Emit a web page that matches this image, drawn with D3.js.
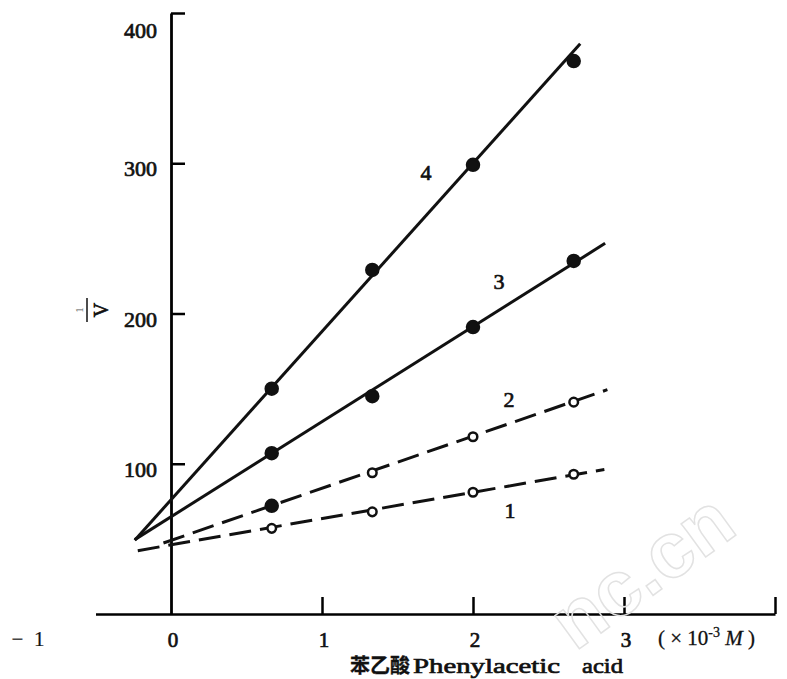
<!DOCTYPE html>
<html>
<head>
<meta charset="utf-8">
<script src="https://cdn.jsdelivr.net/npm/d3@7"></script>
<style>
  body { margin: 0; background: #fff; }
</style>
</head>
<body>
<svg id="chart" width="787" height="679"></svg>
<script>
// Phenylacetic acid concentration (x 10^-3 M)
const conc = [0.667, 1.333, 2.0, 2.667];

// 1/V for each curve
const curve1 = [57, 68, 81, 93];
const curve2 = [72, 94, 118, 141];
const curve3 = [107, 145, 191, 235];
const curve4 = [150, 229, 299, 368];

// drawn straight lines: intercept, slope, x range
const lineIntercepts = [46, 49, 64.7, 76];
const lineSlopes = [17.5, 34.7, 63.3, 112];
const lineStarts = [-0.22, -0.05, -0.24, -0.24];
const lineEnds = [2.87, 2.89, 2.875, 2.71];

const curveNames = ["1", "2", "3", "4"];
const labelPos = [[2.245, 64], [2.238, 138], [2.172, 216], [1.689, 289]];

const xTicks = [0, 1, 2, 3];
const yTicks = [100, 200, 300, 400];

const serif = '"Liberation Serif", "DejaVu Serif", "Times New Roman", serif';

const svg = d3.select("#chart");
const x = d3.scaleLinear().domain([-0.5, 4]).range([95.5, 775]);
const y = d3.scaleLinear().domain([0, 400]).range([614, 13]);

const series = [
    { values: curve1, dashed: true, open: [true, true, true, true] },
    { values: curve2, dashed: true, open: [false, true, true, true] },
    { values: curve3, dashed: false, open: [false, false, false, false] },
    { values: curve4, dashed: false, open: [false, false, false, false] },
];

// helper for bold-looking serif text
const label = (sel, size) => sel
    .attr("font-family", serif)
    .attr("font-size", size)
    .attr("fill", "#111")
    .attr("stroke", "#111")
    .attr("stroke-width", 0.7);

// axes
const xAxis = svg.append("g")
    .attr("transform", `translate(0,${y(0)})`)
    .call(d3.axisTop(x).tickValues([1, 2, 3, 4]).tickSize(17).tickSizeOuter(0).tickFormat(""));
xAxis.select(".domain").attr("stroke-width", 2.5);
xAxis.selectAll(".tick line").attr("stroke-width", 2.5);

const yAxis = svg.append("g")
    .attr("transform", `translate(${x(0)},0)`)
    .call(d3.axisRight(y).tickValues(yTicks).tickSize(14).tickSizeOuter(0).tickFormat(""));
yAxis.select(".domain").attr("stroke-width", 2.8);
yAxis.selectAll(".tick line").attr("stroke-width", 2.5);

// tick labels
svg.selectAll(".xlab")
    .data(xTicks)
    .enter()
    .append("text")
    .attr("x", d => x(d) + 2)
    .attr("y", 647)
    .attr("text-anchor", "middle")
    .call(label, 21)
    .text(d => d);

svg.append("text")
    .attr("x", 28)
    .attr("y", 646)
    .attr("text-anchor", "middle")
    .call(label, 21)
    .attr("stroke-width", 0.2)
    .attr("xml:space", "preserve")
    .text("−  1");

const unit = svg.append("text")
    .attr("x", 658)
    .attr("y", 645)
    .call(label, 21)
    .attr("stroke-width", 0.3)
    .attr("xml:space", "preserve");
unit.append("tspan").text("( × 10");
unit.append("tspan").attr("dy", -8).attr("font-size", 14).text("-3");
unit.append("tspan").attr("dy", 8).attr("font-style", "italic").text(" M");
unit.append("tspan").text(" )");

svg.selectAll(".ylab")
    .data(yTicks)
    .enter()
    .append("text")
    .attr("x", 157)
    .attr("y", d => y(d) + (d === 400 ? 25 : 13))
    .attr("text-anchor", "end")
    .call(label, 22)
    .text(d => d);

// axis titles
const title = svg.append("text")
    .attr("x", 350)
    .attr("y", 673)
    .call(label, 22);
title.append("tspan").attr("font-family", "Noto Sans CJK SC").attr("font-weight", "bold")
    .attr("font-size", 20).attr("stroke-width", 0.3).text("苯乙酸");
title.append("tspan").attr("x", 413).attr("textLength", 147).attr("lengthAdjust", "spacingAndGlyphs").text("Phenylacetic");
title.append("tspan").attr("x", 582).attr("textLength", 41).attr("lengthAdjust", "spacingAndGlyphs").text("acid");

const yTitle = svg.append("g").attr("transform", "translate(88,310) rotate(-90)");
yTitle.append("text").attr("x", 0).attr("y", -5).attr("text-anchor", "middle")
    .attr("font-family", serif).attr("font-size", 11).attr("fill", "#555").text("1");
yTitle.append("line").attr("x1", -12).attr("x2", 12).attr("y1", -1).attr("y2", -1)
    .attr("stroke", "#111").attr("stroke-width", 1.5);
yTitle.append("text").attr("x", 0).attr("y", 20).attr("text-anchor", "middle")
    .call(label, 20).text("V");

// straight lines and markers
series.forEach((s, k) => {
    const a = lineIntercepts[k], b = lineSlopes[k];
    svg.append("line")
        .attr("x1", x(lineStarts[k]))
        .attr("y1", y(a + b * lineStarts[k]))
        .attr("x2", x(lineEnds[k]))
        .attr("y2", y(a + b * lineEnds[k]))
        .attr("stroke", "#111")
        .attr("stroke-width", 3)
        .attr("stroke-dasharray", s.dashed ? "22,9" : null);

    svg.selectAll(null)
        .data(s.values)
        .enter()
        .append("circle")
        .attr("cx", (d, i) => x(conc[i]))
        .attr("cy", d => y(d))
        .attr("r", (d, i) => s.open[i] ? 4.3 : 6)
        .attr("fill", (d, i) => s.open[i] ? "#fff" : "#111")
        .attr("stroke", "#111")
        .attr("stroke-width", 2.5);

    svg.append("text")
        .attr("x", x(labelPos[k][0]))
        .attr("y", y(labelPos[k][1]))
        .attr("text-anchor", "middle")
        .call(label, 22)
        .text(curveNames[k]);
});

// faint watermark
svg.append("text")
    .attr("transform", "translate(575,652) rotate(-36)")
    .attr("font-family", "Arial, Liberation Sans, sans-serif")
    .attr("font-size", 78)
    .attr("font-weight", "bold")
    .attr("fill", "none")
    .attr("stroke", "#e2e2e2")
    .attr("stroke-width", 1.5)
    .text("nc.cn");
</script>
</body>
</html>
